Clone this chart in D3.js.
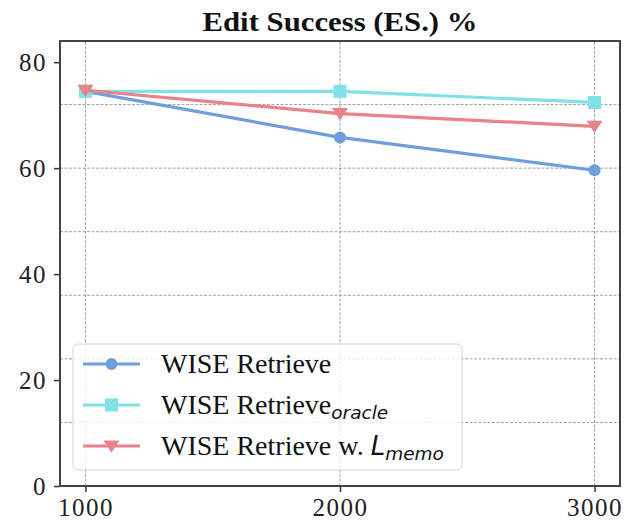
<!DOCTYPE html>
<html>
<head>
<meta charset="utf-8">
<script src="https://cdn.jsdelivr.net/npm/d3@7"></script>
<style>
  html, body { margin: 0; padding: 0; background: #fff; }
  svg { display: block; }
</style>
</head>
<body>
<svg id="chart" width="626" height="521"></svg>
<script>
// Number of edits on the x axis
const edits = [1000, 2000, 3000];
// Edit success (%) per method
const wiseRetrieve = [74.5, 65.8, 59.6];
const wiseOracle = [74.5, 74.5, 72.4];
const wiseMemo = [74.7, 70.3, 67.9];
const yTicks = [0, 20, 40, 60, 80];
const gridYValues = [12, 24, 36, 48, 60, 72];

const series = [
  { name: "WISE Retrieve", sub: null, values: wiseRetrieve, color: "#6e9fdc", marker: "circle" },
  { name: "WISE Retrieve", sub: "oracle", values: wiseOracle, color: "#80e1e6", marker: "square" },
  { name: "WISE Retrieve w. ", math: "L", sub: "memo", values: wiseMemo, color: "#e8828b", marker: "triangle" }
];

const svg = d3.select("#chart");
const margin = { left: 60, right: 6, top: 41, bottom: 35 };
const W = 626, H = 521;
const x = d3.scaleLinear().domain([900, 3100]).range([margin.left, W - margin.right]);
const y = d3.scaleLinear().domain([0, 84]).range([H - margin.bottom, margin.top]);

const serif = "'Liberation Serif', 'DejaVu Serif', serif";
const sans = "'DejaVu Sans', sans-serif";

// Title
svg.append("text")
  .attr("x", (margin.left + W - margin.right) / 2)
  .attr("y", 31)
  .attr("text-anchor", "middle")
  .attr("font-family", serif)
  .attr("font-weight", "bold")
  .attr("font-size", 27)
  .attr("textLength", 275)
  .attr("lengthAdjust", "spacingAndGlyphs")
  .attr("fill", "#111")
  .text("Edit Success (ES.) %");

// Grid lines
const grid = svg.append("g").attr("stroke", "#8a8a8a").attr("stroke-width", 0.8).attr("stroke-dasharray", "3,1.5");
grid.selectAll("line.h").data(gridYValues).join("line")
  .attr("class", "h")
  .attr("x1", x.range()[0]).attr("x2", x.range()[1])
  .attr("y1", d => y(d)).attr("y2", d => y(d));
grid.selectAll("line.v").data(edits).join("line")
  .attr("class", "v")
  .attr("y1", y.range()[0]).attr("y2", y.range()[1])
  .attr("x1", d => x(d)).attr("x2", d => x(d));

// Series lines and markers
const line = d3.line().x((d, i) => x(edits[i])).y(d => y(d));

function drawMarker(g, type, cx, cy, color) {
  if (type === "circle") {
    g.append("circle").attr("cx", cx).attr("cy", cy).attr("r", 6).attr("fill", color);
  } else if (type === "square") {
    g.append("rect").attr("x", cx - 6.5).attr("y", cy - 6.5).attr("width", 13).attr("height", 13).attr("fill", color);
  } else {
    const s = 8;
    g.append("path")
      .attr("d", `M${cx - s},${cy - s * 0.7}L${cx + s},${cy - s * 0.7}L${cx},${cy + s * 0.85}Z`)
      .attr("fill", color);
  }
}

series.forEach(s => {
  const g = svg.append("g");
  g.append("path").datum(s.values)
    .attr("d", line)
    .attr("fill", "none")
    .attr("stroke", s.color)
    .attr("stroke-width", 3.2)
    .attr("stroke-linejoin", "round");
  s.values.forEach((v, i) => drawMarker(g, s.marker, x(edits[i]), y(v), s.color));
});

// Axes
const yAxis = d3.axisLeft(y).tickValues(yTicks).tickSize(6).tickPadding(7);
const xAxis = d3.axisBottom(x).tickValues(edits).tickSize(6).tickPadding(6).tickFormat(d3.format("d"));

const gy = svg.append("g").attr("transform", `translate(${margin.left},0)`).call(yAxis);
const gx = svg.append("g").attr("transform", `translate(0,${H - margin.bottom})`).call(xAxis);
[gx, gy].forEach(g => {
  g.select(".domain").remove();
  g.selectAll(".tick line").attr("stroke", "#333").attr("stroke-width", 1.5);
  g.selectAll(".tick text").attr("font-family", serif).attr("font-size", 25)
    .attr("letter-spacing", 1.5).attr("fill", "#222");
});
gx.selectAll(".tick text").attr("y", 30).attr("dy", 0);

// Frame
svg.append("rect")
  .attr("x", margin.left).attr("y", margin.top)
  .attr("width", W - margin.right - margin.left)
  .attr("height", H - margin.bottom - margin.top)
  .attr("fill", "none").attr("stroke", "#444").attr("stroke-width", 2);

// Legend
const lg = svg.append("g").attr("transform", "translate(73,344)");
lg.append("rect").attr("width", 389).attr("height", 126).attr("rx", 5)
  .attr("fill", "rgba(255,255,255,0.8)").attr("stroke", "#d6d6d6").attr("stroke-width", 1);
series.forEach((s, i) => {
  const cy = 20 + i * 41;
  lg.append("line").attr("x1", 10).attr("x2", 67).attr("y1", cy).attr("y2", cy)
    .attr("stroke", s.color).attr("stroke-width", 3.2);
  drawMarker(lg, s.marker, 38.5, cy, s.color);
  const t = lg.append("text").attr("x", 88).attr("y", cy + 9)
    .attr("font-family", serif).attr("font-size", 28).attr("fill", "#111");
  t.append("tspan").text(s.name);
  if (s.math) {
    t.append("tspan").attr("font-family", sans).attr("font-style", "italic").attr("font-size", 26).text(s.math);
  }
  if (s.sub) {
    t.append("tspan").attr("dy", 5).attr("font-family", sans)
      .attr("font-style", "italic").attr("font-size", 18.5).text(s.sub);
  }
});
</script>
</body>
</html>
